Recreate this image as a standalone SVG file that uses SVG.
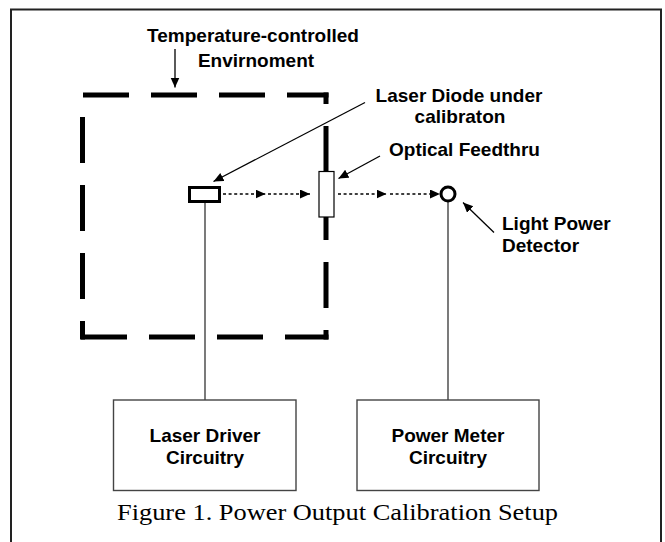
<svg xmlns="http://www.w3.org/2000/svg" width="665" height="542" viewBox="0 0 665 542">
<style>
.lbl{font-family:"Liberation Sans",Arial,sans-serif;font-weight:bold;font-size:19px;fill:#000}
.cap{font-family:"Liberation Serif","Times New Roman",serif;font-size:24px;fill:#000}
.env{stroke:#000;stroke-width:5;fill:none;stroke-dasharray:46 22}
.lead{stroke:#000;stroke-width:1.3;fill:none}
.dot{stroke:#000;stroke-width:1.4;fill:none;stroke-dasharray:3 2.6}
.wire{stroke:#333;stroke-width:1.3;fill:none}
.box{fill:#fff;stroke:#444;stroke-width:1.4}
</style>
<defs>
<marker id="ah" markerUnits="userSpaceOnUse" markerWidth="11" markerHeight="10" refX="10" refY="4.5" orient="auto">
<path d="M0,0 L10,4.5 L0,9 z" fill="#000"/>
</marker>
</defs>
<rect x="0" y="0" width="665" height="542" fill="#fff"/>
<rect id="frame" x="11" y="9.5" width="650" height="560" fill="none" stroke="#222" stroke-width="2"/>

<g id="environment">
<line class="env" x1="83" y1="95" x2="328.5" y2="95"/>
<line class="env" x1="326" y1="92.5" x2="326" y2="339.5" stroke-dashoffset="34.5"/>
<line class="env" x1="79.5" y1="337" x2="328.5" y2="337" stroke-dashoffset="66.5"/>
<line class="env" x1="82.5" y1="95" x2="82.5" y2="339.5" stroke-dashoffset="46"/>
</g>

<g id="connectors">
<line class="wire" x1="205" y1="202" x2="205" y2="400"/>
<line class="wire" x1="448" y1="201" x2="448" y2="400"/>
<line class="dot" x1="223" y1="194" x2="265.5" y2="194" marker-end="url(#ah)"/>
<line class="dot" x1="268" y1="194" x2="310" y2="194" marker-end="url(#ah)"/>
<line class="dot" x1="338" y1="194" x2="386.5" y2="194" marker-end="url(#ah)"/>
<line class="dot" x1="390" y1="194" x2="440" y2="194" marker-end="url(#ah)"/>
<line class="lead" x1="175" y1="49" x2="175" y2="87.5" marker-end="url(#ah)"/>
<line class="lead" x1="365" y1="102.5" x2="213.5" y2="181.5" marker-end="url(#ah)"/>
<line class="lead" x1="380" y1="156" x2="338.5" y2="178.5" marker-end="url(#ah)"/>
<line class="lead" x1="494" y1="232.5" x2="463" y2="202.5" marker-end="url(#ah)"/>
</g>

<g id="laser-diode">
<rect x="189.5" y="187.5" width="30" height="14" fill="#fff" stroke="#000" stroke-width="3"/>
</g>
<g id="optical-feedthru">
<rect x="319" y="171.5" width="15" height="45.5" fill="#fff" stroke="#000" stroke-width="1.2"/>
</g>
<g id="detector">
<circle cx="448" cy="194" r="7" fill="#fff" stroke="#000" stroke-width="3"/>
</g>

<g id="laser-driver">
<rect class="box" x="113.5" y="400" width="182.5" height="90.5"/>
<text class="lbl" x="205" y="441.5" text-anchor="middle">Laser Driver</text>
<text class="lbl" x="205" y="463.5" text-anchor="middle">Circuitry</text>
</g>
<g id="power-meter">
<rect class="box" x="357" y="400" width="182" height="90.5"/>
<text class="lbl" x="448" y="441.5" text-anchor="middle">Power Meter</text>
<text class="lbl" x="448" y="463.5" text-anchor="middle">Circuitry</text>
</g>

<g id="labels">
<text class="lbl" x="253" y="42" text-anchor="middle">Temperature-controlled</text>
<text class="lbl" x="256" y="66.5" text-anchor="middle">Envirnoment</text>
<text class="lbl" x="459" y="101.7" text-anchor="middle">Laser Diode under</text>
<text class="lbl" x="460" y="123.3" text-anchor="middle">calibraton</text>
<text class="lbl" x="389" y="156">Optical Feedthru</text>
<text class="lbl" x="502" y="229.5">Light Power</text>
<text class="lbl" x="502" y="252">Detector</text>
</g>
<text class="cap" x="117" y="520" textLength="441" lengthAdjust="spacingAndGlyphs">Figure 1. Power Output Calibration Setup</text>
</svg>
